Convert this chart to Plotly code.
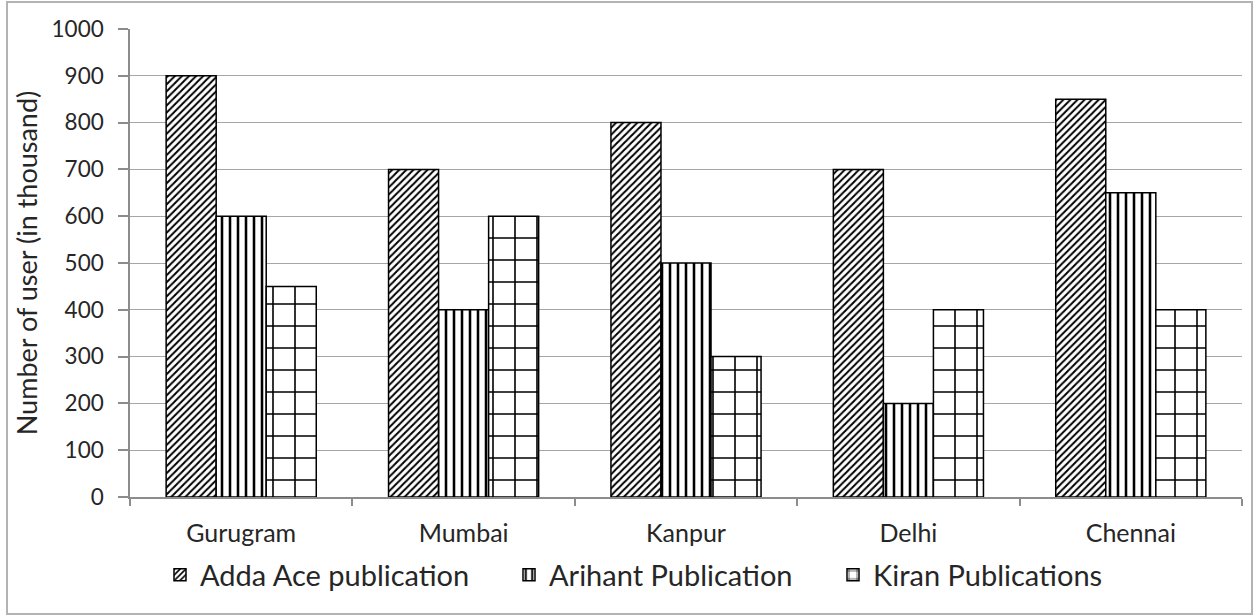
import plotly.graph_objects as go

cities = ["Gurugram", "Mumbai", "Kanpur", "Delhi", "Chennai"]
adda = [900, 700, 800, 700, 850]
arihant = [600, 400, 500, 200, 650]
kiran = [450, 600, 300, 400, 400]
series_names = ["Adda Ace publication", "Arihant Publication", "Kiran Publications"]
y_ticks = [0, 100, 200, 300, 400, 500, 600, 700, 800, 900, 1000]

FONT = "Lato"
TXT = "#262626"

patterns = [
    dict(shape="/", size=5, solidity=0.4, fgcolor="black", bgcolor="white", fgopacity=1),
    dict(shape="|", size=8, solidity=0.32, fgcolor="black", bgcolor="white", fgopacity=1),
    dict(shape="+", size=22, solidity=0.14, fgcolor="black", bgcolor="white", fgopacity=1),
]

W, H = 1253, 615
L, R, T, B = 130, 11, 29, 118
pw, ph = W - L - R, H - T - B

def px(x):
    return (x - L) / pw

def py(y):
    return (H - B - y) / ph

# legend text start positions (pixels) for each entry
legend_text_x = [200, 549, 873]
legend_ids = ["legend", "legend2", "legend3"]

fig = go.Figure()
for name, vals, pat, lid in zip(series_names, [adda, arihant, kiran], patterns, legend_ids):
    fig.add_trace(go.Bar(
        x=cities, y=vals, name=name, legend=lid,
        marker=dict(color="white", pattern=pat, line=dict(color="black", width=1.5)),
    ))

legend_common = dict(orientation="h", yanchor="middle", y=py(575), xanchor="left",
                     font=dict(size=29, family=FONT, color=TXT), bgcolor="rgba(0,0,0,0)",
                     itemwidth=30, borderwidth=0)

fig.update_layout(
    width=W, height=H,
    margin=dict(l=L, r=R, t=T, b=B, autoexpand=False),
    paper_bgcolor="white", plot_bgcolor="white",
    font=dict(family=FONT, color=TXT, size=22),
    barmode="group", bargap=0.325, bargroupgap=0,
    showlegend=True,
    legend=dict(legend_common, x=px(legend_text_x[0] - 40)),
    legend2=dict(legend_common, x=px(legend_text_x[1] - 40)),
    legend3=dict(legend_common, x=px(legend_text_x[2] - 40)),
    xaxis=dict(showline=True, linecolor="#8c8c8c", linewidth=1.5, ticks="outside",
               tickson="boundaries", ticklen=7, tickcolor="#8c8c8c", tickwidth=1.5,
               showgrid=False, tickfont=dict(size=25), automargin=False,
               ticklabelstandoff=13),
    yaxis=dict(range=[0, 1000], tickvals=y_ticks, showline=True, linecolor="#8c8c8c",
               linewidth=1.5, ticks="outside", ticklen=10, tickcolor="#8c8c8c", tickwidth=1.5,
               showgrid=True, gridcolor="#a6a6a6", gridwidth=1.3, zeroline=False,
               tickfont=dict(size=22.5), automargin=False, ticklabelstandoff=10,
               title=dict(text="Number of user (in thousand)", font=dict(size=27), standoff=6)),
    shapes=[dict(type="rect", xref="paper", yref="paper",
                 x0=px(7), x1=px(1252), y0=py(614), y1=py(2),
                 line=dict(color="#b3b3b3", width=2), fillcolor="rgba(0,0,0,0)", layer="below")],
)

fig.write_html("out.html", config={"displayModeBar": False},
               post_script="document.body.style.margin='0';")
